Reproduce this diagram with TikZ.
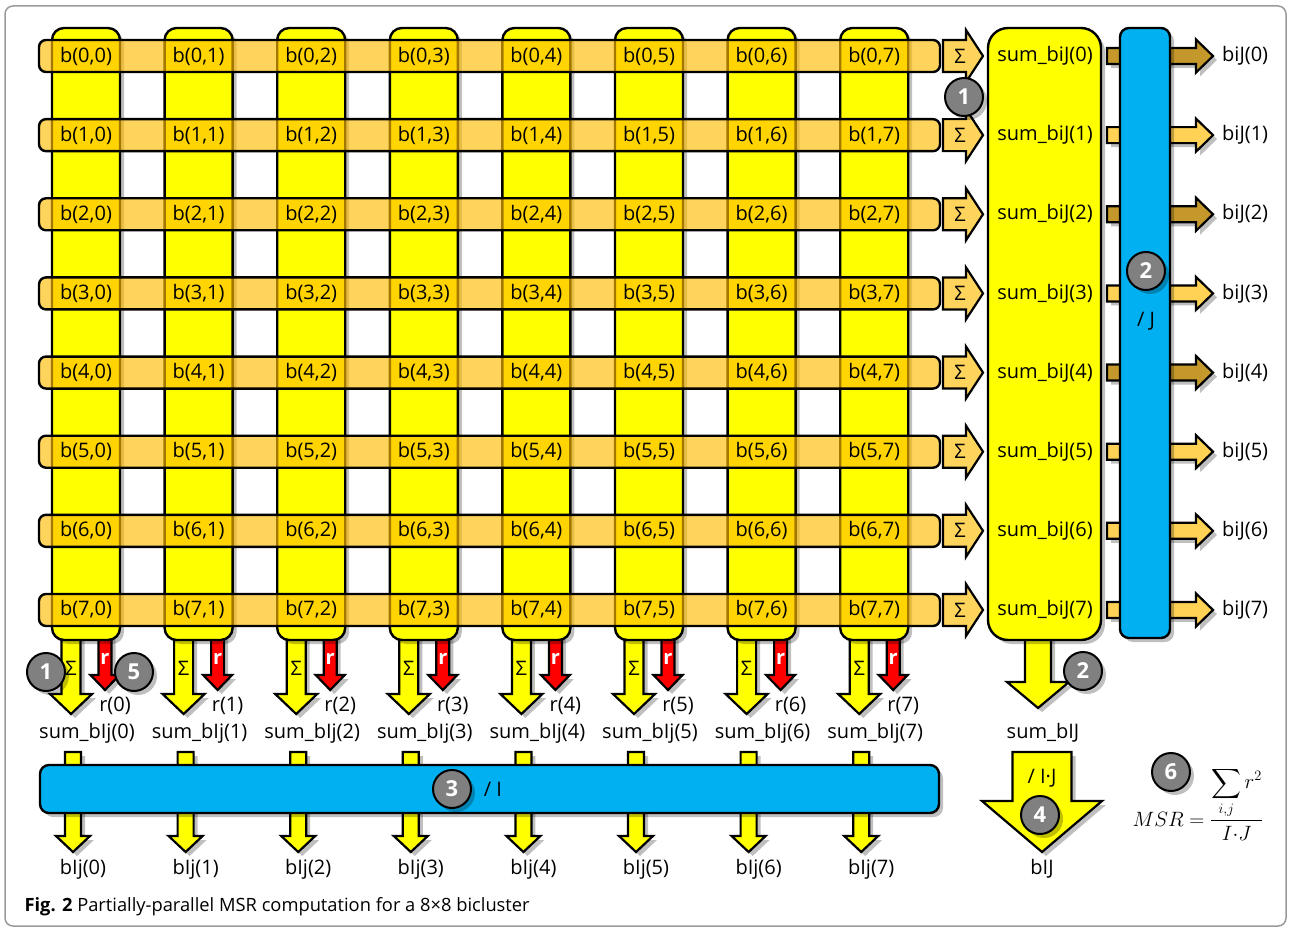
\documentclass[tikz,border=0pt]{standalone}
\usepackage{amsmath}
\usepackage{exscale}
\usepackage{fontspec}
\setmainfont{Open Sans}
\usetikzlibrary{positioning, shadows}
\definecolor{cellyellow}{RGB}{255,255,0}
\definecolor{rowamber}{RGB}{255,188,0}
\definecolor{arrowlight}{RGB}{255,210,85}
\definecolor{arrowdark}{RGB}{196,152,42}
\definecolor{divblue}{RGB}{0,176,240}
\definecolor{resred}{RGB}{255,0,0}
\definecolor{stepgray}{RGB}{128,128,128}
\definecolor{framegray}{RGB}{155,155,155}

% fat arrows: style, x (y), start, tip, body half, head half, head length
\newcommand{\fatdown}[7]{%
  \draw[#1] (#2-#5,#3) -- (#2-#5,#4-#7) -- (#2-#6,#4-#7) -- (#2,#4)
    -- (#2+#6,#4-#7) -- (#2+#5,#4-#7) -- (#2+#5,#3) -- cycle;}
\newcommand{\fatright}[7]{%
  \draw[#1] (#3,#2-#5) -- (#4-#7,#2-#5) -- (#4-#7,#2-#6) -- (#4,#2)
    -- (#4-#7,#2+#6) -- (#4-#7,#2+#5) -- (#3,#2+#5) -- cycle;}

\begin{document}
\begin{tikzpicture}[x=1pt, y=-1pt,
  lbl/.style={font=\fontsize{20}{24}\selectfont, inner sep=0pt},
  shade/.style={drop shadow={opacity=.25, fill=black, shadow xshift=4pt, shadow yshift=-4pt}},
  colbar/.style={draw, line width=2.4pt, fill=cellyellow, rounded corners=12pt, minimum width=68pt, minimum height=612pt, shade},
  rowbar/.style={draw, line width=2.4pt, fill=rowamber, fill opacity=.64, rounded corners=7pt, minimum width=901pt, minimum height=32pt},
  bluebox/.style={draw, line width=2.4pt, fill=divblue, rounded corners=9pt, shade},
  stepmark/.style={circle, draw, line width=2pt, fill=stepgray, text=white, font=\fontsize{22}{24}\selectfont\bfseries, minimum size=38pt, inner sep=0pt, shade},
  sumarrow/.style={draw, line width=2.2pt, fill=cellyellow, line join=miter, shade},
  resarrow/.style={draw, line width=2.2pt, fill=resred, line join=miter, shade},
  rowarrow/.style={draw, line width=2.2pt, fill=rowamber, fill opacity=.64, line join=miter}
]
\useasboundingbox (0,0) rectangle (1291,931);
\draw[framegray, line width=1.5pt, rounded corners=8pt] (5,6) rectangle (1286,926);

% columns with their sum and residue arrows
\foreach \j in {0,...,7}{
  \pgfmathsetmacro\cx{86+112.6*\j}
  \pgfmathsetmacro\sx{\cx-15}
  \pgfmathsetmacro\rx{\cx+19}
  \fatdown{sumarrow}{\sx}{630}{714}{9.5}{21}{20}
  \fatdown{resarrow}{\rx}{630}{690}{6.5}{14.5}{15}
  \node[colbar] (col\j) at (\cx,334) {};
  \node[lbl] (csig\j) at (\sx,668) {Σ};
  \node[lbl, text=white, font=\fontsize{20}{24}\selectfont\bfseries] (cres\j) at (\rx,659) {r};
  \node[lbl] (r\j) at (\cx+29,706) {r(\j)};
  \node[lbl] (sumIj\j) at (\cx+1,733) {sum\_bIj(\j)};
}

% rows
\foreach \i in {0,...,7}{
  \pgfmathsetmacro\ry{56+79.14*\i}
  \node[rowbar] (row\i) at (489.5,\ry) {};
  \foreach \j in {0,...,7}{
    \node[lbl] (b\i\j) at ({86+112.6*\j},\ry) {b(\i,\j)};
  }
  \fatright{rowarrow}{\ry}{943}{983}{16}{26}{17}
  \node[lbl] (rsig\i) at (960,\ry) {Σ};
}

% row sums and division by J
\fatdown{sumarrow}{1038}{630}{708}{13}{31}{26}
\node[colbar, minimum width=113pt, rounded corners=20pt] (sumbox) at (1044.5,334) {};
\foreach \i/\c in {0/arrowdark,1/arrowlight,2/arrowdark,3/arrowlight,4/arrowdark,5/arrowlight,6/arrowlight,7/arrowlight}{
  \pgfmathsetmacro\ry{56+79.14*\i}
  \node[lbl] (sumiJ\i) at (1045,\ry) {sum\_biJ(\i)};
  \fatright{draw, line width=2.2pt, fill=\c, line join=miter, shade}{\ry}{1107}{1213}{8}{16.5}{17}
  \node[lbl, anchor=west] (biJ\i) at (1222,\ry) {biJ(\i)};
}
\node[bluebox, minimum width=50pt, minimum height=610pt] (divJ) at (1145,333) {};
\node[lbl] (divJlbl) at (1146,321) {/ J};

% column means
\foreach \j in {0,...,7}{
  \pgfmathsetmacro\bx{73+112.6*\j}
  \fatdown{sumarrow}{\bx}{752}{852}{8}{17}{16}
  \node[lbl] (bIj\j) at ({83+112.6*\j},869) {bIj(\j)};
}
\node[bluebox, minimum width=899pt, minimum height=48pt] (divI) at (489.5,789) {};
\node[lbl] (divIlbl) at (493,789) {/ I};

% overall mean
\node[lbl] (sumIJ) at (1043,733) {sum\_bIJ};
\fatdown{sumarrow}{1042}{752}{852}{29.5}{60}{51}
\node[lbl] (divIJ) at (1042,778) {/ I·J};
\node[lbl] (bIJ) at (1042,869) {bIJ};

% steps
\node[stepmark] (s1a) at (964,97) {1};
\node[stepmark] (s1b) at (46,672) {1};
\node[stepmark] (s2a) at (1146,271) {2};
\node[stepmark] (s2b) at (1083,671) {2};
\node[stepmark] (s3) at (452,789) {3};
\node[stepmark] (s4) at (1040,815) {4};
\node[stepmark] (s5) at (134,672) {5};
\node[stepmark] (s6) at (1171,772) {6};

\node[anchor=base west, font=\fontsize{20}{24}\selectfont] (msr) at (1129,826)
  {$\displaystyle MSR=\frac{\displaystyle\sum_{i,j} r^2}{I{\cdot}J}$};

\node[anchor=west, font=\fontsize{18.3}{21}\selectfont] (caption) at (21,907)
  {\textbf{Fig. 2} Partially-parallel MSR computation for a 8×8 bicluster};
\end{tikzpicture}
\end{document}
